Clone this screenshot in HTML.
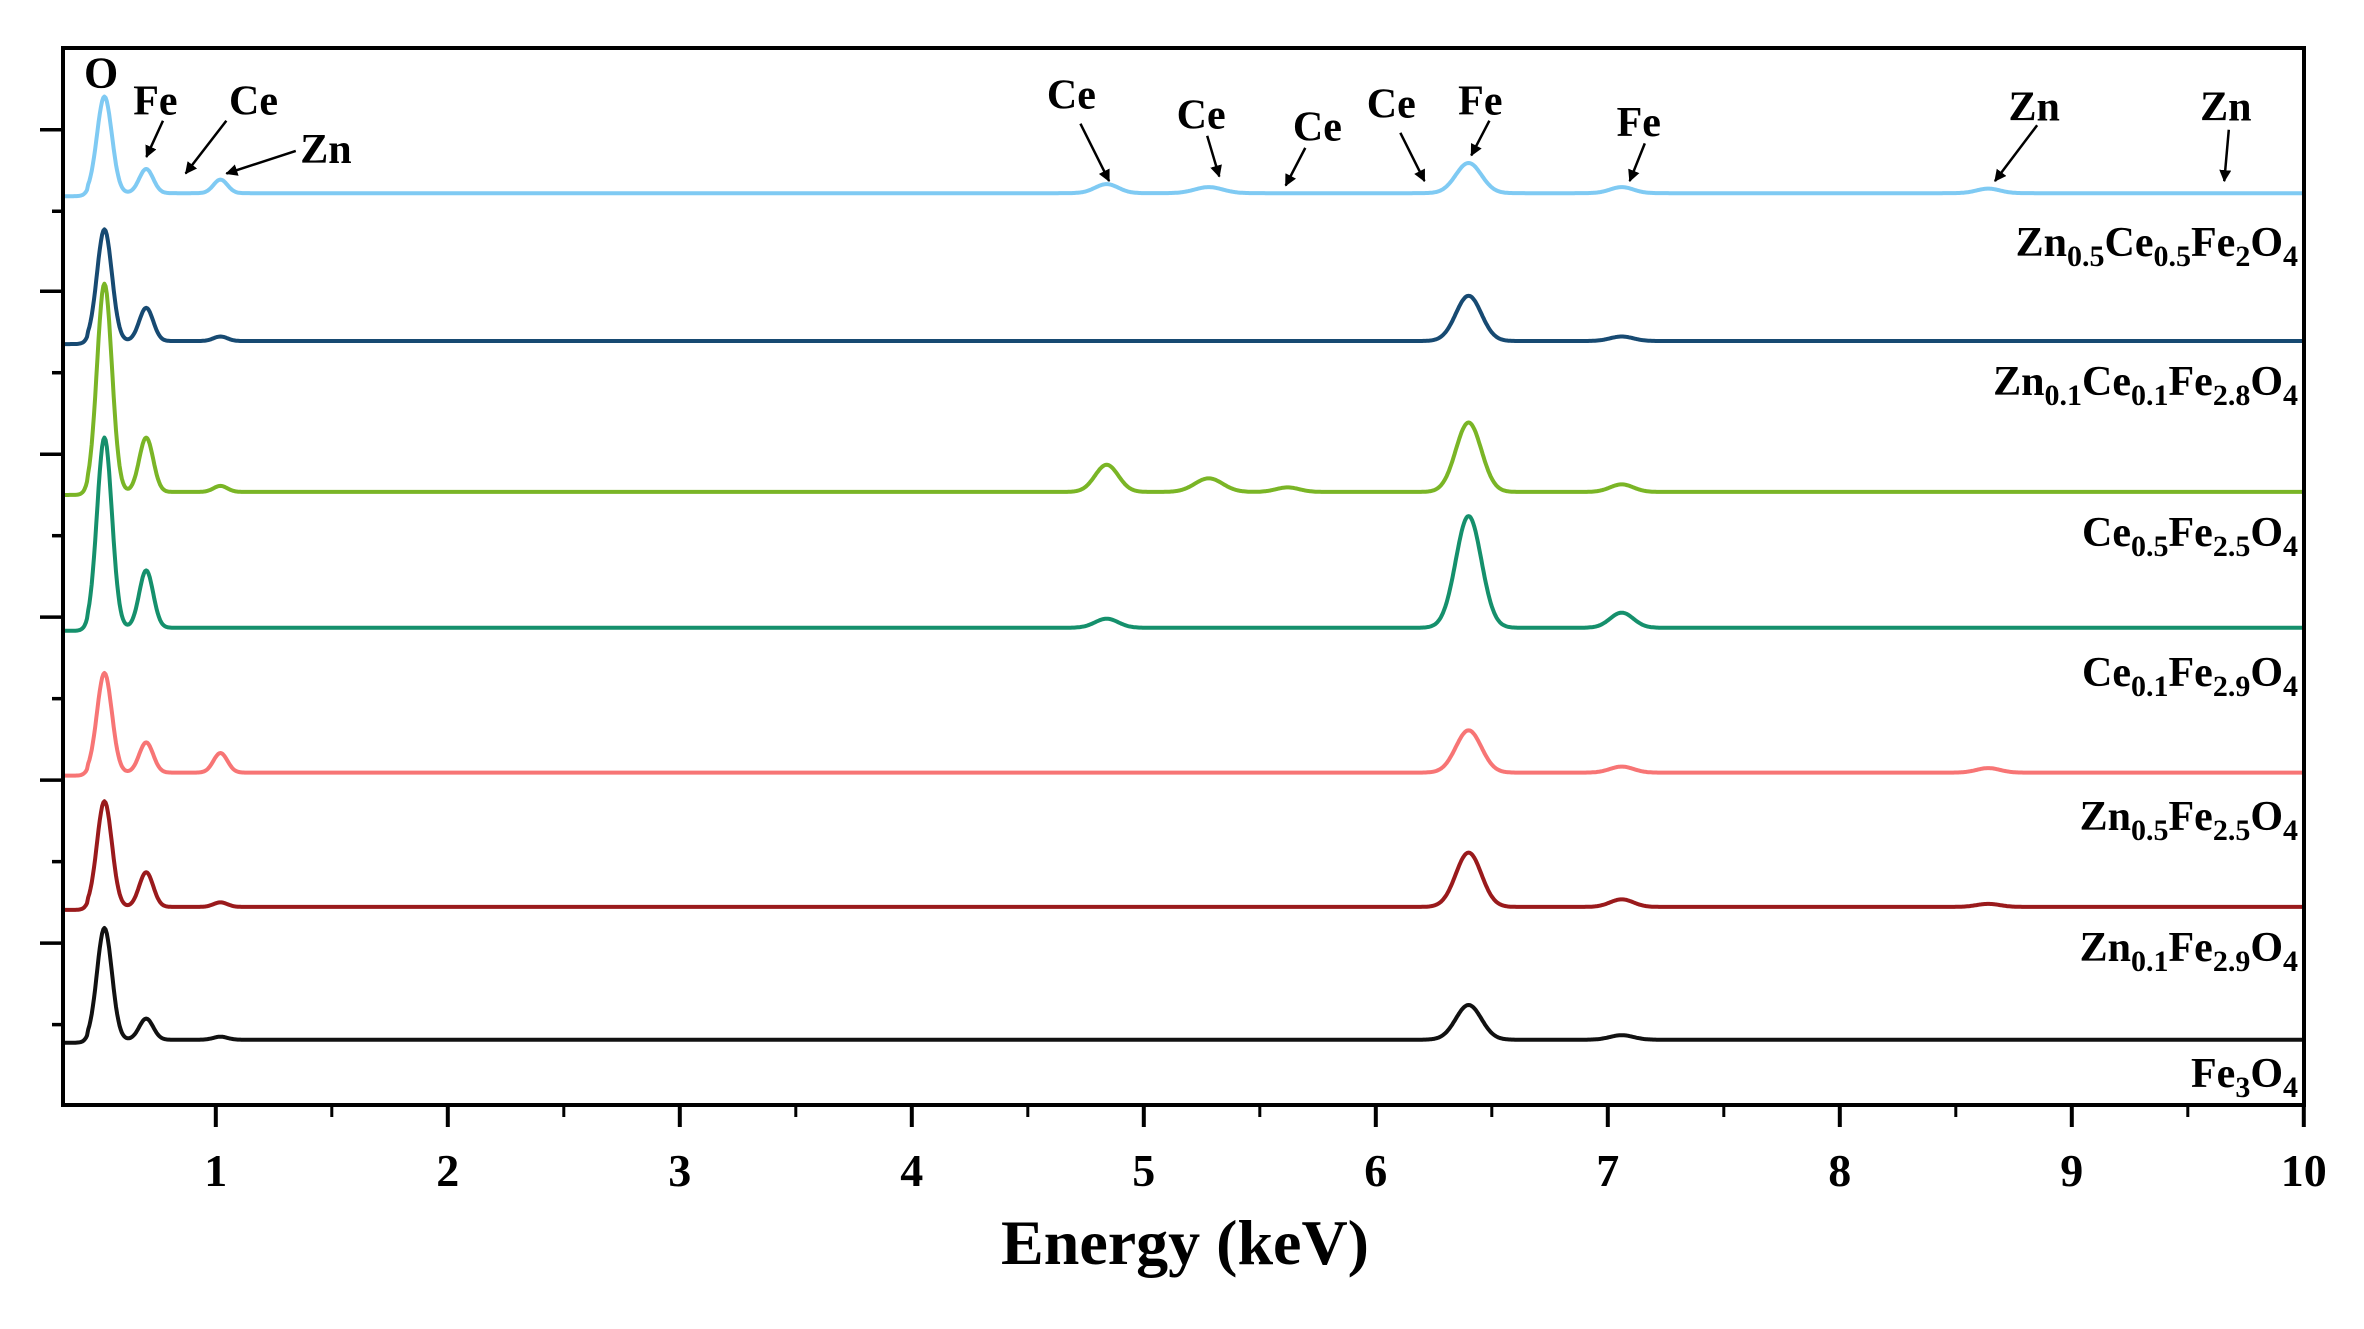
<!DOCTYPE html>
<html><head><meta charset="utf-8">
<style>
html,body{margin:0;padding:0;background:#fff;}
svg{display:block;font-family:"Liberation Serif",serif;font-weight:bold;}
</style></head>
<body>
<svg id="chart" width="2364" height="1329" viewBox="0 0 2364 1329" xmlns="http://www.w3.org/2000/svg">
<defs>
<marker id="ah" markerWidth="12" markerHeight="12" refX="11" refY="6" orient="auto" markerUnits="userSpaceOnUse" viewBox="0 0 12 12">
<path d="M0,0 L12,6 L0,12 z" fill="#000"/>
</marker>
</defs>
<g id="series"></g>
<g id="axes"></g>
<g id="labels"></g>
<g id="annot"></g>
</svg>
<script>
// ---- data ----
const xTicks = [1,2,3,4,5,6,7,8,9,10];
const sampleNames = ["Zn0.5Ce0.5Fe2O4","Zn0.1Ce0.1Fe2.8O4","Ce0.5Fe2.5O4","Ce0.1Fe2.9O4","Zn0.5Fe2.5O4","Zn0.1Fe2.9O4","Fe3O4"];
const seriesColors = ["#7fcaf3","#174a72","#7ab526","#15906c","#f77575","#9a1a1c","#111111"];
// baseline levels (display units, larger = lower)
const seriesBaselines = [128,226,326,416,512,601,689];
// peak energies (keV) and heights for each series
const peakEnergies = [0.52,0.70,1.02,4.84,5.28,5.62,6.40,7.06,8.64];
const heightsS0 = [64,16,9,6,4,0,20,4,3];
const heightsS1 = [74,22,3,0,0,0,30,3,0];
const heightsS2 = [138,36,4,18,9,3,46,5,0];
const heightsS3 = [126,38,0,6,0,0,74,10,0];
const heightsS4 = [66,20,13,0,0,0,28,4,3];
const heightsS5 = [70,23,3,0,0,0,36,5,2];
const heightsS6 = [74,14,2,0,0,0,23,3,0];
const peakSigmas = [0.032,0.03,0.03,0.05,0.06,0.05,0.055,0.05,0.05];
const allHeights = [heightsS0,heightsS1,heightsS2,heightsS3,heightsS4,heightsS5,heightsS6];

// ---- scales ----
const PX = 1.509;
function xs(e){ return 215.8 + (e-1)*232.0; }
function ys(d){ return d*PX; }
const NS="http://www.w3.org/2000/svg";
function mk(tag,attrs,parent){const el=document.createElementNS(NS,tag);for(const k in attrs)el.setAttribute(k,attrs[k]);parent.appendChild(el);return el;}

const gS=document.getElementById('series');
for(let s=0;s<sampleNames.length;s++){
  const h=allHeights[s];
  let d="";
  for(let e=0.35;e<=10.0001;e+=0.005){
    let v=0;
    for(let p=0;p<peakEnergies.length;p++){
      const z=(e-peakEnergies[p])/peakSigmas[p];
      v+=h[p]*Math.exp(-0.5*z*z);
    }
    const y=ys(seriesBaselines[s]-v+(e<0.45?2:0));
    d+=(d?"L":"M")+xs(e).toFixed(1)+","+y.toFixed(1);
  }
  const path=mk('path',{d:d,fill:"none",stroke:seriesColors[s],"stroke-width":4,"stroke-linejoin":"round"},gS);
  
  
}

// axes
const gA=document.getElementById('axes');
const L=63,R=2304,T=48,B=1105;
const frame=mk('rect',{x:L,y:T,width:R-L,height:B-T,fill:"none",stroke:"#000","stroke-width":4},gA);


for(let i=0;i<xTicks.length;i++){
  const x=xs(xTicks[i]);
  mk('line',{x1:x,y1:B,x2:x,y2:B+22,stroke:"#000","stroke-width":4},gA);
  const t=mk('text',{x:x,y:1186,"text-anchor":"middle","font-size":46},gA);
  t.textContent=xTicks[i];
  
  
}
for(let e=1.5;e<10;e+=1){const x=xs(e);mk('line',{x1:x,y1:B,x2:x,y2:B+12,stroke:"#000","stroke-width":3},gA);}
const yTickD=[86,140,193,247,301,355,409,463,517,571,625,679];
for(let i=0;i<yTickD.length;i++){
  const y=ys(yTickD[i]);
  mk('line',{x1:i%2==0?40:52,y1:y,x2:L,y2:y,stroke:"#000","stroke-width":3.5},gA);
}
const xt=mk('text',{x:1185,y:1264,"text-anchor":"middle","font-size":64},gA);
xt.textContent="Energy (keV)";



// sample labels
const gL=document.getElementById('labels');
const labelY=[256,395,546,686,830,961,1087];
const labelParts=[
 [["Zn",0],["0.5",1],["Ce",0],["0.5",1],["Fe",0],["2",1],["O",0],["4",1]],
 [["Zn",0],["0.1",1],["Ce",0],["0.1",1],["Fe",0],["2.8",1],["O",0],["4",1]],
 [["Ce",0],["0.5",1],["Fe",0],["2.5",1],["O",0],["4",1]],
 [["Ce",0],["0.1",1],["Fe",0],["2.9",1],["O",0],["4",1]],
 [["Zn",0],["0.5",1],["Fe",0],["2.5",1],["O",0],["4",1]],
 [["Zn",0],["0.1",1],["Fe",0],["2.9",1],["O",0],["4",1]],
 [["Fe",0],["3",1],["O",0],["4",1]]
];
for(let i=0;i<labelParts.length;i++){
  const t=mk('text',{x:2298,y:labelY[i],"text-anchor":"end","font-size":42},gL);
  
  
  let prevSub=false;
  for(const [txt,sub] of labelParts[i]){
    const ts=document.createElementNS(NS,'tspan');
    ts.textContent=txt;
    if(sub){ts.setAttribute('font-size','30');ts.setAttribute('dy',prevSub?'0':'10');}
    else if(prevSub){ts.setAttribute('dy','-10');}
    prevSub=!!sub;
    t.appendChild(ts);
  }
}

// annotations in display units
const gN=document.getElementById('annot');
const annText=["O","Fe","Ce","Zn","Ce","Ce","Ce","Ce","Fe","Fe","Zn","Zn"];
const annPos=[[67,58],[103,76],[168,76],[216,108],[710,72],[796,85],[873,93],[922,78],[981,76],[1086,90],[1348,80],[1475,80]];
const annArrows=[null,[108,80,97,104],[150,80,123,115],[196,100,150,115],[716,82,735,120],[800,90,808,117],[865,98,852,123],[928,88,944,120],[987,80,975,103],[1090,95,1080,120],[1350,83,1322,120],[1477,86,1474,120]];
for(let i=0;i<annText.length;i++){
  const t=mk('text',{x:annPos[i][0]*PX,y:annPos[i][1]*PX,"text-anchor":"middle","font-size":i==0?44:42},gN);
  t.textContent=annText[i];
  
  
  const a=annArrows[i];
  if(a){
    const ln=mk('line',{x1:a[0]*PX,y1:a[1]*PX,x2:a[2]*PX,y2:a[3]*PX,stroke:"#000","stroke-width":2.5,"marker-end":"url(#ah)"},gN);
    
    
  }
}
</script>
</body></html>
